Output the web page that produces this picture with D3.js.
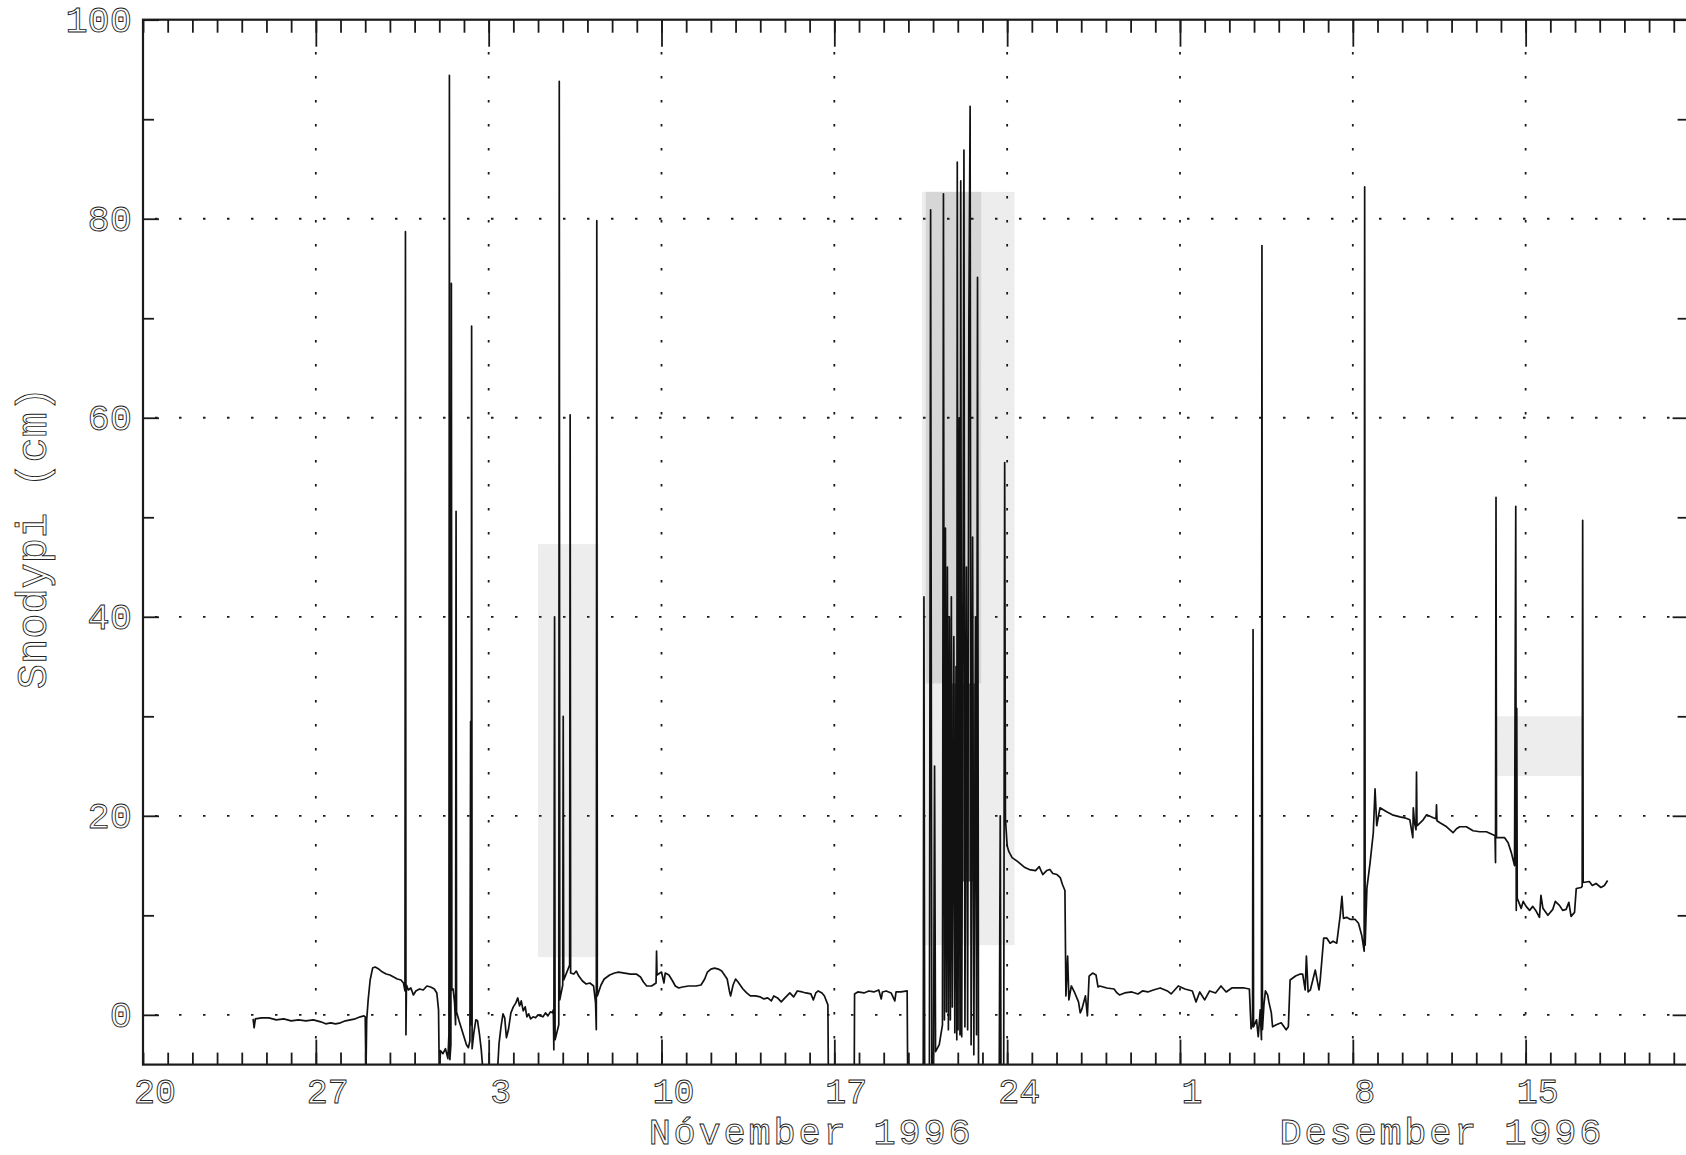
<!DOCTYPE html>
<html>
<head>
<meta charset="utf-8">
<script src="https://cdn.jsdelivr.net/npm/d3@7"></script>
<style>
  html, body { margin: 0; background: #fff; }
</style>
</head>
<body>
<div id="chart"></div>
<script>
// Snow depth record, 20 Oct - 21 Dec 1996.
// Every reading is [days after 20 Oct 1996 00:00, depth in cm]
const START = Date.UTC(1996, 9, 20);
const DAY = 864e5;
const SPAN_DAYS = 62.6;

const traceOctober = [
  [4.46,-0.4],[4.50,-1.3],[4.55,-0.4],[4.8,-0.3],[5.1,-0.3],[5.4,-0.5],[5.7,-0.4],[6.0,-0.6],
  [6.3,-0.5],[6.6,-0.6],[6.9,-0.5],[7.2,-0.7],[7.4,-0.9],[7.6,-0.8],[7.8,-0.9],[8.0,-0.8],
  [8.2,-0.6],[8.4,-0.5],[8.6,-0.4],[8.8,-0.2],[8.95,-0.1],[9.0,-0.2],[9.03,-6],[9.06,-0.5],
  [9.12,1.5],[9.2,3.5],[9.3,4.7],[9.4,4.8],[9.55,4.6],[9.7,4.3],[9.85,4.1],[10.0,4.0],
  [10.15,3.8],[10.3,3.6],[10.45,3.5],[10.55,3.2],[10.61,2.4],[10.63,78.7],[10.65,-2],[10.67,3.0],
  [10.75,2.5],[10.85,2.7],[10.95,2.0],[11.05,2.4],[11.2,2.6],[11.35,2.5],[11.5,2.9],[11.65,2.8],
  [11.8,2.6],[11.9,2.2],[11.97,0.5],[12.0,-6]
];

const traceEarlyNov = [
  [12.05,-3.6],[12.15,-3.9],[12.25,-3.4],[12.35,-4.4],[12.39,-2],[12.41,94.4],[12.43,-4.5],[12.47,-3],
  [12.49,73.5],[12.51,2.5],[12.56,2.6],[12.62,1.2],[12.66,-1],[12.68,50.6],[12.70,0.3],[12.8,-0.6],
  [12.9,-1.4],[13.0,-2.2],[13.1,-3.0],[13.18,-3.3],[13.24,-2.6],[13.27,29.5],[13.29,-1],[13.31,69.2],
  [13.33,-3.4],[13.4,-1.8],[13.48,-0.5],[13.55,-0.6],[13.62,-1.8],[13.7,-3.5],[13.78,-6],[14.35,-6],
  [14.42,-2.9],[14.5,-1.2],[14.58,0.1],[14.65,-0.3],[14.72,-2.3],[14.8,-1.5],[14.9,0.2],[15.0,0.8],
  [15.1,1.2],[15.18,1.7],[15.25,0.9],[15.32,1.4],[15.4,0.4],[15.48,0.8],[15.55,-0.2],[15.62,0.1],
  [15.7,-0.4],[15.8,-0.2],[15.9,-0.3],[16.0,0.0],[16.1,-0.1],[16.2,-0.2],[16.3,0.2],[16.4,-0.1],
  [16.5,0.3],[16.58,0.2]
];

const traceMidNov = [
  [16.62,0.5],[16.64,-3.5],[16.67,40],[16.69,-2.5],[16.84,-1],[16.86,93.8],[16.88,1.5],[17.0,3],
  [17.02,30],[17.04,3.5],[17.28,5],[17.30,60.3],[17.32,4.2],[17.45,4.1],[17.55,4.4],[17.65,3.9],
  [17.8,3.4],[17.95,3.1],[18.1,3.2],[18.25,2.9],[18.33,1.2],[18.36,-1.5],[18.38,79.8],[18.40,1.9],
  [18.55,3.0],[18.68,3.6],[18.9,4.0],[19.1,4.2],[19.26,4.3],[19.5,4.2],[19.75,4.1],[19.98,4.1],
  [20.15,3.8],[20.27,3.3],[20.4,2.9],[20.6,2.9],[20.78,3.2],[20.80,6.4],[20.82,4.0],[21.0,4.3],
  [21.1,3.2],[21.15,4.2],[21.3,4.0],[21.45,3.4],[21.56,2.9],[21.7,2.7],[21.85,2.8],[22.1,2.9],
  [22.4,2.9],[22.6,3.0],[22.75,3.6],[22.86,4.3],[23.0,4.6],[23.15,4.7],[23.3,4.6],[23.44,4.4],
  [23.55,4.0],[23.66,3.6],[23.75,2.4],[23.8,1.9],[23.9,3.0],[24.0,3.6],[24.1,3.3],[24.3,2.6],
  [24.45,2.2],[24.6,1.9],[24.8,1.9],[25.0,1.8],[25.15,1.6],[25.3,1.7],[25.45,1.4],[25.55,1.9],
  [25.7,1.7],[25.85,1.3],[26.0,1.7],[26.2,2.2],[26.35,1.8],[26.5,2.4],[26.7,2.3],[26.85,2.2],
  [27.05,2.1],[27.15,1.5],[27.25,2.2],[27.35,2.4],[27.5,2.2],[27.6,1.9],[27.74,1.0],[27.77,-10],
  [28.8,-10],[28.82,2.1],[28.95,2.3],[29.2,2.2],[29.4,2.4],[29.6,2.3],[29.8,2.5],[29.9,1.6],
  [29.95,2.3],[30.1,2.4],[30.3,2.2],[30.45,1.4],[30.5,2.3],[30.7,2.3],[30.95,2.4],[30.98,-10]
];

const traceStorm = [
  [31.55,-10],[31.6,-7],[31.63,42],[31.66,-7],[31.85,-7],[31.9,80.9],[31.95,-6],[32.02,-3.7],
  [32.06,25],[32.1,-3.7],[32.25,-3],[32.38,-1],[32.42,82.5],[32.46,-0.5],[32.5,48.9],[32.54,0.3],
  [32.58,45],[32.62,-1.5],[32.66,40],[32.7,-0.5],[32.74,42],[32.78,0.8],[32.84,38],[32.88,-1.8],
  [32.93,35],[32.96,-2.5],[32.98,85.7],[33.01,-1.5],[33.06,60],[33.09,-2],[33.12,83.8],[33.16,-2.2],
  [33.22,50],[33.25,86.9],[33.29,-1.2],[33.35,45],[33.4,-1.5],[33.45,70],[33.5,91.3],[33.54,-3],
  [33.6,48],[33.65,-4],[33.72,40],[33.76,-2],[33.8,74.1],[33.84,-6],[33.9,-10],[34.6,-10],
  [34.68,-6],[34.72,20],[34.75,-6],[34.86,-6],[34.9,55.5],[34.93,19.7],[35.0,17.0],[35.07,16.4],
  [35.2,15.8],[35.43,15.4],[35.72,14.8],[35.9,14.6],[36.15,14.5],[36.3,14.9],[36.44,14.1],[36.6,14.5],
  [36.73,14.6],[36.85,14.2],[37.02,14.1],[37.15,13.8],[37.24,13.1],[37.34,12.5],[37.38,1.9]
];

const traceDecember = [
  [37.45,5.9],[37.5,1.5],[37.6,2.9],[37.74,2.2],[37.89,1.3],[37.96,0.2],[38.03,0.6],[38.17,1.9],
  [38.25,-0.1],[38.32,3.9],[38.46,4.2],[38.6,4.0],[38.68,2.8],[38.75,2.9],[39.04,2.7],[39.33,2.6],
  [39.45,2.2],[39.55,2.0],[39.76,2.2],[40.05,2.3],[40.3,2.1],[40.48,2.4],[40.7,2.3],[40.92,2.5],
  [41.2,2.7],[41.49,2.4],[41.64,2.1],[41.93,2.9],[42.2,2.6],[42.5,2.4],[42.65,1.3],[42.8,2.3],
  [43.0,1.5],[43.2,2.4],[43.44,2.2],[43.66,2.9],[43.87,2.3],[44.1,2.7],[44.38,2.7],[44.6,2.7],
  [44.81,2.6],[44.88,-1.4],[44.94,-1.0],[44.96,38.7],[44.98,-1.2],[45.1,-0.5],[45.17,-2.2],[45.25,0.5],
  [45.30,-2.5],[45.32,77.3],[45.34,-1.5],[45.4,1.0],[45.46,2.4],[45.55,2.0],[45.6,1.3],[45.7,0.2],
  [45.75,-1.2],[45.9,-1.0],[46.1,-0.8],[46.3,-1.5],[46.39,-1.2],[46.46,3.5],[46.68,3.9],[46.87,4.1],
  [46.97,4.1],[47.07,2.5],[47.12,5.9],[47.19,2.3],[47.28,2.5],[47.41,3.8],[47.48,4.5],[47.63,2.5],
  [47.68,3.5],[47.82,7.7],[47.95,7.7],[48.08,7.2],[48.2,7.4],[48.35,7.2],[48.49,10.0],[48.56,11.9],
  [48.62,9.7],[48.75,9.8],[48.89,9.6],[49.09,9.6],[49.23,9.2],[49.36,8.0],[49.46,6.4],[49.48,83.2],
  [49.5,7.0],[49.57,12.7],[49.7,15.3],[49.83,18.3],[49.9,22.7],[49.97,19.0],[50.1,20.8],[50.37,20.4],
  [50.6,20.1],[50.91,19.9],[51.1,19.8],[51.31,19.6],[51.43,17.8],[51.45,20.8],[51.5,19.3],[51.56,18.6],
  [51.58,24.4],[51.6,19.0],[51.85,19.6],[51.99,20.1],[52.26,19.8],[52.37,19.7],[52.39,21.1],[52.41,19.5],
  [52.53,19.3],[52.8,18.9],[53.06,18.3],[53.2,18.7],[53.33,18.9],[53.6,18.9],[53.87,18.5],[54.14,18.4],
  [54.41,18.4],[54.68,18.1],[54.76,18.0],[54.78,15.3],[54.8,52.0],[54.82,17.8],[55.15,17.8],[55.29,17.3],
  [55.42,16.3],[55.55,15.0],[55.6,51.1],[55.62,10.5],[55.64,30.8],[55.66,11.7],[55.82,10.7],[55.9,11.4],
  [56.02,10.9],[56.16,10.5],[56.29,10.9],[56.43,10.4],[56.56,9.8],[56.62,12.0],[56.7,10.7],[56.9,10.0],
  [57.1,10.6],[57.2,11.4],[57.37,11.0],[57.5,10.5],[57.64,10.6],[57.75,11.3],[57.84,9.9],[57.98,10.3],
  [58.05,12.7],[58.25,12.8],[58.29,12.9],[58.31,49.7],[58.33,13.3],[58.58,13.4],[58.7,13.0],[58.85,13.2],
  [59.05,12.8],[59.19,13.0],[59.32,13.5]
];

// grey smears left by the dense spikes: [from day, to day, low cm, high cm, tone]
const smearBands = [
  [16.0, 18.45, 5.8, 47.3, "light"],
  [31.55, 35.3, 7.0, 82.7, "light"],
  [31.7, 33.95, 33.3, 82.7, "mid"],
  [32.45, 33.8, 13.4, 33.3, "dark"],
  [54.8, 58.3, 24.0, 30.0, "light"]
];

const weekLabels = ["20", "27", "3", "10", "17", "24", "1", "8", "15"];
const monthLabels = [["Nóvember 1996", 27.0], ["Desember 1996", 52.55]];
const yMajor = [0, 20, 40, 60, 80, 100];
const yMinor = [10, 30, 50, 70, 90];
const yGrid = [0, 20, 40, 60, 80];
const yTitle = "Snodypi (cm)";

const width = 1686;
const height = 1155;
const plotLeft = 143, plotTop = 19.7, plotBottom = 1064.6;
const plotRight = plotLeft + SPAN_DAYS * 24.69;

const toDate = d => new Date(START + d * DAY);
const endDate = toDate(SPAN_DAYS);

const x = d3.scaleUtc().domain([toDate(0), endDate]).range([plotLeft, plotRight]);
const y = d3.scaleLinear().domain([-5, 100]).range([plotBottom, plotTop]);

const svg = d3.select('#chart')
  .append('svg')
  .attr('width', width)
  .attr('height', height)
  .attr('viewBox', [0, 0, width, height])
  .style('display', 'block')
  .style('background', '#fff');

svg.append('defs').append('clipPath').attr('id', 'plot-clip')
  .append('rect')
  .attr('x', plotLeft).attr('y', plotTop)
  .attr('width', plotRight - plotLeft).attr('height', plotBottom - plotTop);

const ink = '#1a1a1a';
const textStyle = sel => sel
  .attr('font-family', '"Liberation Mono", "DejaVu Sans Mono", monospace')
  .attr('fill', '#fff')
  .attr('stroke', '#222')
  .attr('stroke-width', 0.9);

// grey smears
const toneFill = { light: '#ededed', mid: '#d6d6d6', dark: '#5c5c5c' };
svg.append('g')
  .attr('clip-path', 'url(#plot-clip)')
  .selectAll('rect')
  .data(smearBands)
  .join('rect')
  .attr('x', d => x(toDate(d[0])))
  .attr('width', d => x(toDate(d[1])) - x(toDate(d[0])))
  .attr('y', d => y(d[3]))
  .attr('height', d => y(d[2]) - y(d[3]))
  .attr('fill', d => toneFill[d[4]]);

// dotted grid
const weeks = d3.utcSunday.range(toDate(1), endDate);
const grid = svg.append('g')
  .attr('stroke', ink)
  .attr('stroke-width', 1.8)
  .attr('stroke-dasharray', '2.5,21.5');

grid.selectAll('line.v')
  .data(weeks)
  .join('line')
  .attr('class', 'v')
  .attr('x1', d => x(d)).attr('x2', d => x(d))
  .attr('y1', plotBottom - 26).attr('y2', plotTop + 26);

grid.selectAll('line.h')
  .data(yGrid)
  .join('line')
  .attr('class', 'h')
  .attr('x1', plotLeft + 12).attr('x2', plotRight - 12)
  .attr('y1', d => y(d)).attr('y2', d => y(d));

// the record itself
const readings = [traceOctober, traceEarlyNov, traceMidNov, traceStorm, traceDecember].flat();
const line = d3.line()
  .x(d => x(toDate(d[0])))
  .y(d => y(d[1]));

svg.append('path')
  .datum(readings)
  .attr('clip-path', 'url(#plot-clip)')
  .attr('fill', 'none')
  .attr('stroke', '#111')
  .attr('stroke-width', 1.7)
  .attr('stroke-linejoin', 'round')
  .attr('d', line);

// frame and ticks
const allDays = d3.utcDay.range(toDate(0), endDate);
const noDomain = g => g.select('.domain').remove();
const tickInk = g => g.selectAll('line').attr('stroke', ink).attr('stroke-width', 1.8);

svg.append('g')
  .attr('transform', `translate(0,${plotBottom})`)
  .call(d3.axisTop(x).tickValues(allDays).tickSize(12).tickFormat(''))
  .call(noDomain).call(tickInk);
svg.append('g')
  .attr('transform', `translate(0,${plotBottom})`)
  .call(d3.axisTop(x).tickValues(weeks).tickSize(25).tickFormat(''))
  .call(noDomain).call(tickInk);
svg.append('g')
  .attr('transform', `translate(0,${plotTop})`)
  .call(d3.axisBottom(x).tickValues(allDays).tickSize(13).tickFormat(''))
  .call(noDomain).call(tickInk);
svg.append('g')
  .attr('transform', `translate(0,${plotTop})`)
  .call(d3.axisBottom(x).tickValues(weeks).tickSize(27).tickFormat(''))
  .call(noDomain).call(tickInk);

svg.append('g')
  .attr('transform', `translate(${plotLeft},0)`)
  .call(d3.axisRight(y).tickValues(yMajor).tickSize(16).tickFormat(''))
  .call(noDomain).call(tickInk);
svg.append('g')
  .attr('transform', `translate(${plotLeft},0)`)
  .call(d3.axisRight(y).tickValues(yMinor).tickSize(11).tickFormat(''))
  .call(noDomain).call(tickInk);
svg.append('g')
  .attr('transform', `translate(${plotRight},0)`)
  .call(d3.axisLeft(y).tickValues(yMajor).tickSize(16).tickFormat(''))
  .call(noDomain).call(tickInk);
svg.append('g')
  .attr('transform', `translate(${plotRight},0)`)
  .call(d3.axisLeft(y).tickValues(yMinor).tickSize(11).tickFormat(''))
  .call(noDomain).call(tickInk);

svg.append('rect')
  .attr('x', plotLeft).attr('y', plotTop)
  .attr('width', plotRight - plotLeft).attr('height', plotBottom - plotTop)
  .attr('fill', 'none')
  .attr('stroke', ink)
  .attr('stroke-width', 2.2);

// labels
const weekStarts = d3.utcSunday.range(toDate(0), endDate);
svg.append('g')
  .selectAll('text')
  .data(weekLabels)
  .join('text')
  .attr('x', (d, i) => x(weekStarts[i]) + 12)
  .attr('y', 1103)
  .attr('text-anchor', 'middle')
  .attr('font-size', 35)
  .text(d => d)
  .call(textStyle);

svg.append('g')
  .selectAll('text')
  .data(yMajor)
  .join('text')
  .attr('x', 132)
  .attr('y', d => y(d) + 12)
  .attr('text-anchor', 'end')
  .attr('font-size', 37)
  .text(d => d)
  .call(textStyle);

svg.append('g')
  .selectAll('text')
  .data(monthLabels)
  .join('text')
  .attr('x', d => x(toDate(d[1])))
  .attr('y', 1144)
  .attr('text-anchor', 'middle')
  .attr('font-size', 37)
  .attr('textLength', 322)
  .attr('lengthAdjust', 'spacing')
  .text(d => d[0])
  .call(textStyle);

svg.append('text')
  .attr('transform', 'translate(46,538) rotate(-90)')
  .attr('text-anchor', 'middle')
  .attr('font-size', 42)
  .text(yTitle)
  .call(textStyle);
</script>
</body>
</html>
